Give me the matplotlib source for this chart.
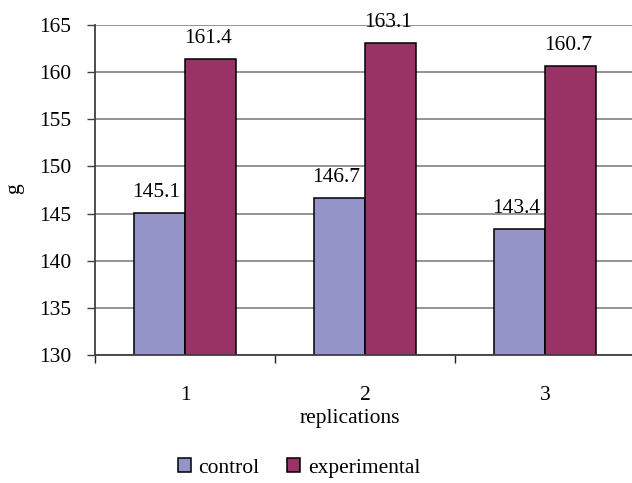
import matplotlib.pyplot as plt
import numpy as np

plt.rcParams['font.family'] = ['Liberation Serif', 'DejaVu Serif']

# replication data (g)
replications = ['1', '2', '3']
control = [145.1, 146.7, 143.4]
experimental = [161.4, 163.1, 160.7]
y_ticks = [130, 135, 140, 145, 150, 155, 160, 165]

col_control = '#9494C8'
col_exp = '#993366'
fs = 15.5

fig = plt.figure(figsize=(6.32, 4.83), dpi=100)
ax = fig.add_axes([95/632, 1-355/483, 540/632, 330/483])

x = np.arange(1, len(replications) + 1)
w = 1/3.5
b1 = ax.bar(x - w/2, control, w, bottom=0, color=col_control,
            edgecolor='black', linewidth=1.1, label='control', zorder=3)
b2 = ax.bar(x + w/2, experimental, w, color=col_exp,
            edgecolor='black', linewidth=1.1, label='experimental', zorder=3)

# value labels above each bar
for bars, vals in ((b1, control), (b2, experimental)):
    for r, v in zip(bars, vals):
        ax.annotate(f'{v:.1f}', (r.get_x() + r.get_width()/2, v),
                    xytext=(-2, 11.5), textcoords='offset points',
                    ha='center', va='baseline', fontsize=fs)

ax.set_ylim(130, 165)
ax.set_xlim(0.5, 3.5)
ax.set_yticks(y_ticks)
ax.yaxis.grid(True, color='#808080', linewidth=1.2, zorder=0)
ax.tick_params(axis='y', length=6, width=1, color='#404040', pad=11, labelsize=fs)

ax.set_xticks(x)
ax.set_xticklabels(replications)
ax.set_xticks(np.arange(0.5, 3.6, 1), minor=True)
ax.tick_params(axis='x', which='major', length=0, pad=22, labelsize=fs)
ax.tick_params(axis='x', which='minor', length=6, width=1, color='#202020')

for s in ('top', 'right'):
    ax.spines[s].set_visible(False)
ax.spines['left'].set_color('#404040')
ax.spines['left'].set_linewidth(1.3)
ax.spines['bottom'].set_color('#404040')
ax.spines['bottom'].set_linewidth(1.3)
ax.spines['bottom'].set_zorder(4)

ax.set_xlabel('replications', fontsize=fs)
ax.xaxis.set_label_coords(0.472, -0.165)
ax.xaxis.label.set_va('top')
fig.text(15/632, 1-189/483, 'g', rotation=90, ha='center', va='center', fontsize=fs)

fig.legend(handles=[b1, b2], loc='center', bbox_to_anchor=(299/632, 1-468/483),
           ncol=2, frameon=False, fontsize=fs, handlelength=0.6, handleheight=0.6,
           handletextpad=0.35, columnspacing=1.3, borderpad=0)

fig.savefig('out.png', dpi=100)
